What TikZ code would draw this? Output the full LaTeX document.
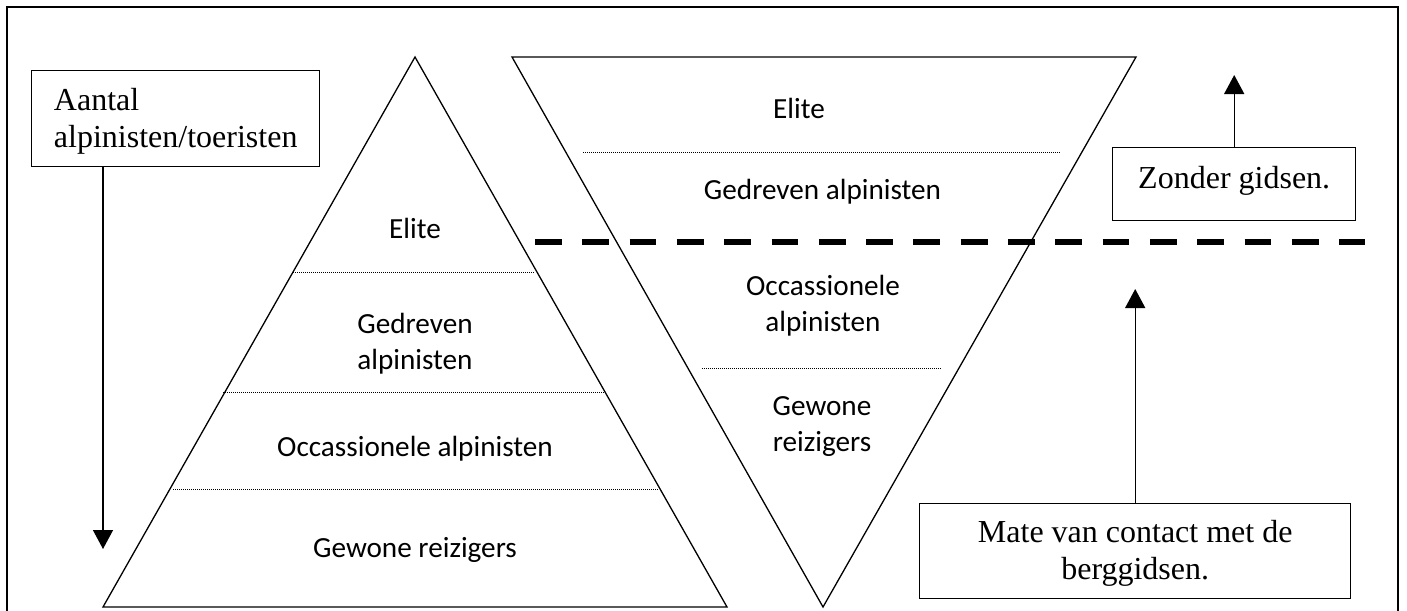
\documentclass[tikz,border=0pt]{standalone}
\usepackage{fontspec}
\setmainfont{Liberation Serif}
\newfontfamily\calfont{Carlito}
\usetikzlibrary{arrows.meta}
\begin{document}
\begin{tikzpicture}[x=1pt,y=-1pt,
  tri/.style={line width=1.3pt, line join=miter},
  layer/.style={line width=0.9pt, dash pattern=on 0.9pt off 1.1pt},
  box/.style={draw, line width=1.4pt, inner sep=0pt, font=\fontsize{32}{37}\selectfont},
  lbl/.style={font=\calfont\fontsize{29.2}{36}\selectfont, inner sep=0pt, anchor=base},
  arr/.style={line width=1.4pt, -{Triangle[length=19pt,width=20pt]}},
  guide/.style={line width=6.5pt, dash pattern=on 26.8pt off 20.5pt}
]
\path[use as bounding box, clip] (0,0) rectangle (1407,610);
\draw[line width=1.6pt] (7,7) rectangle (1398,630);

% left pyramid
\coordinate (LA) at (415,57);
\coordinate (LB) at (103,607);
\coordinate (LC) at (727,607);
\draw[tri] (LA) -- (LB) -- (LC) -- cycle;
\draw[layer] (293,272.7) -- (534,272.7);
\draw[layer] (223,392.7) -- (604,392.7);
\draw[layer] (173,489) -- (658,489);
\node[lbl] (le) at (415,238) {Elite};
\node[lbl] (lg) at (415,333) {\begin{tabular}[t]{@{}c@{}}Gedreven\\alpinisten\end{tabular}};
\node[lbl] (lo) at (415,456) {Occassionele alpinisten};
\node[lbl] (lw) at (415,557) {Gewone reizigers};

% inverted pyramid
\coordinate (RA) at (512,57);
\coordinate (RB) at (1136,57);
\coordinate (RC) at (823,607);
\draw[tri] (RA) -- (RB) -- (RC) -- cycle;
\draw[layer] (583,152.7) -- (1060,152.7);
\draw[layer] (702,368.3) -- (941,368.3);
\node[lbl] (re) at (799,118) {Elite};
\node[lbl] (rg) at (822.5,199) {Gedreven alpinisten};
\node[lbl] (ro) at (823,295) {\begin{tabular}[t]{@{}c@{}}Occassionele\\alpinisten\end{tabular}};
\node[lbl] (rw) at (822,415) {\begin{tabular}[t]{@{}c@{}}Gewone\\reizigers\end{tabular}};

% dashed boundary
\coordinate (d1) at (535,242);
\coordinate (d2) at (1365,242);
\draw[guide] (d1) -- (d2);

% boxes
\node[box, anchor=north west, minimum width=288pt, text height=40pt, text depth=56pt] (aantal) at (31,70)
  {\begin{tabular}[t]{@{}l@{}}Aantal\\alpinisten/toeristen\end{tabular}};
\node[box, anchor=north west, minimum width=243pt, text height=41pt, text depth=32pt] (zonder) at (1112,147)
  {Zonder gidsen.};
\node[box, anchor=north west, minimum width=431pt, text height=39pt, text depth=56pt] (mate) at (919,503)
  {\begin{tabular}[t]{@{}c@{}}Mate van contact met de\\berggidsen.\end{tabular}};

% arrows
\coordinate (t1) at (103,549);
\draw[arr] (aantal.south -| t1) -- (t1);
\coordinate (t2) at (1233,75);
\draw[arr] (zonder.north) -- (zonder.north |- t2);
\coordinate (t3) at (1135,289);
\draw[arr] (mate.north) -- (mate.north |- t3);
\end{tikzpicture}
\end{document}
